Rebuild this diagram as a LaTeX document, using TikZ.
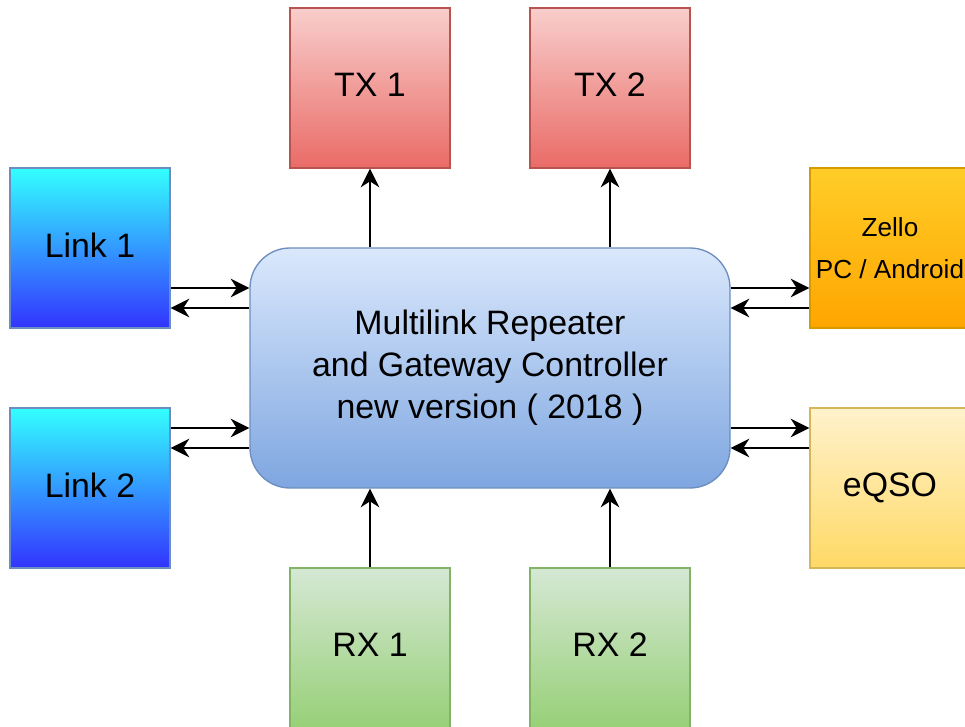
\documentclass[tikz,border=0pt]{standalone}
\usepackage{fontspec}
\setmainfont{Liberation Sans}
\usetikzlibrary{arrows.meta}

\definecolor{txtop}{HTML}{F8CECC}
\definecolor{txbot}{HTML}{EA6B66}
\definecolor{txline}{HTML}{B85450}
\definecolor{rxtop}{HTML}{D5E8D4}
\definecolor{rxbot}{HTML}{97D077}
\definecolor{rxline}{HTML}{82B366}
\definecolor{lktop}{HTML}{33FFFF}
\definecolor{lkbot}{HTML}{3333FF}
\definecolor{lkline}{HTML}{6C8EBF}
\definecolor{zltop}{HTML}{FFCD28}
\definecolor{zlbot}{HTML}{FFA500}
\definecolor{zlline}{HTML}{D79B00}
\definecolor{eqtop}{HTML}{FFF2CC}
\definecolor{eqbot}{HTML}{FFD966}
\definecolor{eqline}{HTML}{D6B656}
\definecolor{cotop}{HTML}{DAE8FC}
\definecolor{cobot}{HTML}{7EA6E0}

\begin{document}
\begin{tikzpicture}[x=0.75pt, y=-0.75pt,
 box/.style={draw, line width=1pt, minimum width=120pt, minimum height=120pt, inner sep=0pt, align=center, font=\fontsize{25.4}{31.5}\selectfont},
 small/.style={box, text depth=4.5pt},
 txbox/.style={small, top color=txtop, bottom color=txbot, draw=txline},
 rxbox/.style={small, top color=rxtop, bottom color=rxbot, draw=rxline},
 linkbox/.style={small, top color=lktop, bottom color=lkbot, draw=lkline},
 zellobox/.style={box, top color=zltop, bottom color=zlbot, draw=zlline, font=\fontsize{19.6}{31.5}\selectfont},
 eqsobox/.style={small, top color=eqtop, bottom color=eqbot, draw=eqline},
 corebox/.style={box, minimum width=360pt, minimum height=180pt, rounded corners=30pt, top color=cotop, bottom color=cobot, draw=lkline},
 wire/.style={line width=1.5pt, -{Stealth[length=14pt, width=14pt, inset=4.5pt]}}]
 \useasboundingbox (0,0) rectangle (965,727);

 \node[corebox] (core) at (490,368) {Multilink Repeater\\and Gateway Controller\\new version ( 2018 )};

 \node[txbox] (tx1) at (370,88) {TX 1};
 \node[txbox] (tx2) at (610,88) {TX 2};
 \node[rxbox] (rx1) at (370,648) {RX 1};
 \node[rxbox] (rx2) at (610,648) {RX 2};
 \node[linkbox] (link1) at (90,248) {Link 1};
 \node[linkbox] (link2) at (90,488) {Link 2};
 \node[zellobox] (zello) at (890,248) {Zello\\PC / Android};
 \node[eqsobox] (eqso) at (890,488) {eQSO};

 % up and down
 \draw[wire] (core.north -| tx1.south) -- (tx1.south);
 \draw[wire] (core.north -| tx2.south) -- (tx2.south);
 \draw[wire] (rx1.north) -- (rx1.north |- core.south);
 \draw[wire] (rx2.north) -- (rx2.north |- core.south);

 % left side
 \draw[wire] ([yshift=-30pt]link1.east) -- ([yshift=60pt]core.west);
 \draw[wire] ([yshift=45pt]core.west) -- ([yshift=-45pt]link1.east);
 \draw[wire] ([yshift=45pt]link2.east) -- ([yshift=-45pt]core.west);
 \draw[wire] ([yshift=-60pt]core.west) -- ([yshift=30pt]link2.east);

 % right side
 \draw[wire] ([yshift=60pt]core.east) -- ([yshift=-30pt]zello.west);
 \draw[wire] ([yshift=-45pt]zello.west) -- ([yshift=45pt]core.east);
 \draw[wire] ([yshift=-45pt]core.east) -- ([yshift=45pt]eqso.west);
 \draw[wire] ([yshift=30pt]eqso.west) -- ([yshift=-60pt]core.east);
\end{tikzpicture}
\end{document}
